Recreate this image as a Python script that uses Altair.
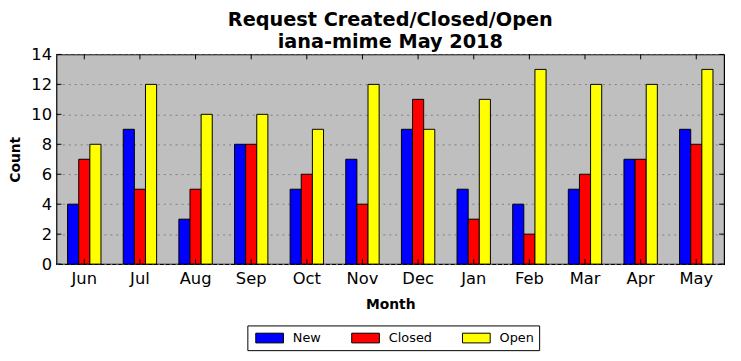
import altair as alt
import pandas as pd

months = ["Jun", "Jul", "Aug", "Sep", "Oct", "Nov", "Dec", "Jan", "Feb", "Mar", "Apr", "May"]
series = ["New", "Closed", "Open"]
new_vals = [4, 9, 3, 8, 5, 7, 9, 5, 4, 5, 7, 9]
closed_vals = [7, 5, 5, 8, 6, 4, 11, 3, 2, 6, 7, 8]
open_vals = [8, 12, 10, 10, 9, 12, 9, 11, 13, 12, 12, 13]
colors = ["#0000ff", "#ff0000", "#ffff00"]
y_ticks = [0, 2, 4, 6, 8, 10, 12, 14]

rows = []
for name, vals in zip(series, [new_vals, closed_vals, open_vals]):
    for m, v in zip(months, vals):
        rows.append({"Month": m, "Series": name, "Count": v})
df = pd.DataFrame(rows)
mdf = pd.DataFrame({"Month": months})
ydf = pd.DataFrame({"Count": y_ticks})

W, H = 675, 212
xscale = alt.Scale(domain=months, paddingInner=0.4, paddingOuter=0.2)
yscale = alt.Scale(domain=[0, 14], nice=False)

xaxis = alt.Axis(title="Month", labelAngle=0, ticks=False, labelFontSize=16.5,
                 labelPadding=7, titleFontSize=14, titleFontWeight="bold",
                 titlePadding=10, domain=False, grid=False, labelColor="black",
                 titleColor="black")
yaxis = alt.Axis(title="Count", values=y_ticks, ticks=False, labelFontSize=16.5,
                 labelPadding=5, titleFontSize=14, titleFontWeight="bold",
                 titlePadding=8, domain=False, grid=True, gridColor="#808080",
                 gridDash=[2, 4], gridWidth=1, labelColor="black",
                 titleColor="black")

X = alt.X("Month:N", sort=months, scale=xscale, axis=xaxis)
Y = alt.Y("Count:Q", scale=yscale, axis=yaxis)

bars = alt.Chart(df).mark_bar(stroke="black", strokeWidth=1).encode(
    x=X,
    xOffset=alt.XOffset("Series:N", sort=series,
                        scale=alt.Scale(domain=series, paddingInner=0, paddingOuter=0)),
    y=Y,
    color=alt.Color("Series:N", sort=series,
                    scale=alt.Scale(domain=series, range=colors),
                    legend=alt.Legend(title=None, orient="none", legendX=193, legendY=274,
                                      direction="horizontal",
                                      labelFontSize=13,
                                      symbolType="M-2,-0.7L2,-0.7L2,0.7L-2,0.7Z",
                                      symbolSize=196, symbolOffset=10,
                                      symbolStrokeColor="black",
                                      symbolStrokeWidth=1, symbolOpacity=1,
                                      strokeColor="black", fillColor="white",
                                      padding=5, columnPadding=27, labelOffset=16,
                                      labelColor="black")),
)

xt_bottom = alt.Chart(mdf).mark_rule(color="black").encode(
    x=X, y=alt.value(H), y2=alt.value(H - 5))
xt_top = alt.Chart(mdf).mark_rule(color="black").encode(
    x=X, y=alt.value(0), y2=alt.value(5))
yt_left = alt.Chart(ydf).mark_rule(color="black").encode(
    y=Y, x=alt.value(0), x2=alt.value(5))
yt_right = alt.Chart(ydf).mark_rule(color="black").encode(
    y=Y, x=alt.value(W), x2=alt.value(W - 5))

chart = alt.layer(bars, xt_bottom, xt_top, yt_left, yt_right).properties(
    width=W, height=H,
    title=alt.TitleParams(text=["Request Created/Closed/Open", "iana-mime May 2018"],
                          fontSize=19.5, fontWeight="bold", anchor="middle", offset=2,
                          dy=8, lineHeight=22, color="black"),
    autosize=alt.AutoSizeParams(type="none"),
    padding={"left": 49, "top": 45, "right": 9, "bottom": 94},
).configure(font="DejaVu Sans").configure_view(
    fill="#bfbfbf", stroke="black", strokeWidth=1.2
)

chart.save("out.html", embed_options={"renderer": "svg", "actions": False})
